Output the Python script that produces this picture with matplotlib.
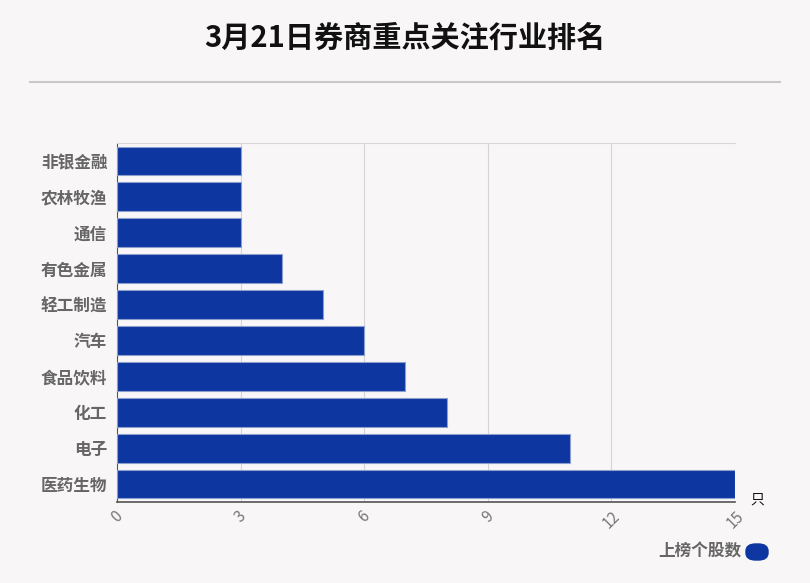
import matplotlib
matplotlib.use("Agg")
import matplotlib.pyplot as plt
from matplotlib.patches import FancyBboxPatch
from matplotlib.lines import Line2D

plt.rcParams['font.family'] = ['Noto Sans CJK SC', 'DejaVu Sans']

industries = ["非银金融", "农林牧渔", "通信", "有色金属", "轻工制造",
              "汽车", "食品饮料", "化工", "电子", "医药生物"]
counts = [3, 3, 3, 4, 5, 6, 7, 8, 11, 15]
xticks = [0, 3, 6, 9, 12, 15]

bg = "#f9f6f7"
bar_color = "#0d36a0"

fig = plt.figure(figsize=(8.1, 5.83), dpi=100, facecolor=bg)
ax = fig.add_axes([117/810, 1-502/583, (735-117)/810, (502-143)/583])
ax.set_facecolor(bg)

ypos = list(range(len(industries)))
ax.barh(ypos, counts, height=0.8, color=bar_color, edgecolor="#8a9fd0",
        linewidth=0.8, zorder=3)
ax.set_ylim(len(industries) - 0.5, -0.5)
ax.set_xlim(0, 15)
ax.set_yticks(ypos)
ax.set_yticklabels(industries, fontsize=12, fontweight='bold', color="#666666")
ax.set_xticks(xticks)
ax.set_xticklabels([str(t) for t in xticks], rotation=45, fontsize=11,
                   color="#777777", ha='center', va='top')
ax.tick_params(axis='y', length=0, pad=7)
ax.tick_params(axis='x', length=0, pad=4)
ax.grid(axis='x', color="#d4d4d4", linewidth=0.8, zorder=0)
ax.spines['top'].set_color("#d8d8d8")
ax.spines['right'].set_visible(False)
ax.spines['left'].set_color("#555555")
ax.spines['bottom'].set_color("#555555")
ax.spines['bottom'].set_linewidth(1.2)

fig.text(0.5, 1-38/583, "3月21日券商重点关注行业排名", ha='center', va='center',
         fontsize=21, fontweight='bold', color="#111111")
fig.add_artist(Line2D([30/810, 780/810], [1-82/583, 1-82/583],
                      color="#c8c8c8", linewidth=1.5))

fig.text(750/810, 1-500/583, "只", ha='left', va='center', fontsize=10,
         color="#111111")

fig.text(741/810, 1-551/583, "上榜个股数", ha='right', va='center',
         fontsize=12, fontweight='bold', color="#666666")
fig.add_artist(FancyBboxPatch((746/810, 1-560/583), 22/810, 16/583,
                              boxstyle="round,pad=0,rounding_size=0.012",
                              transform=fig.transFigure, color=bar_color))

fig.savefig("out.png", dpi=100, facecolor=bg)
